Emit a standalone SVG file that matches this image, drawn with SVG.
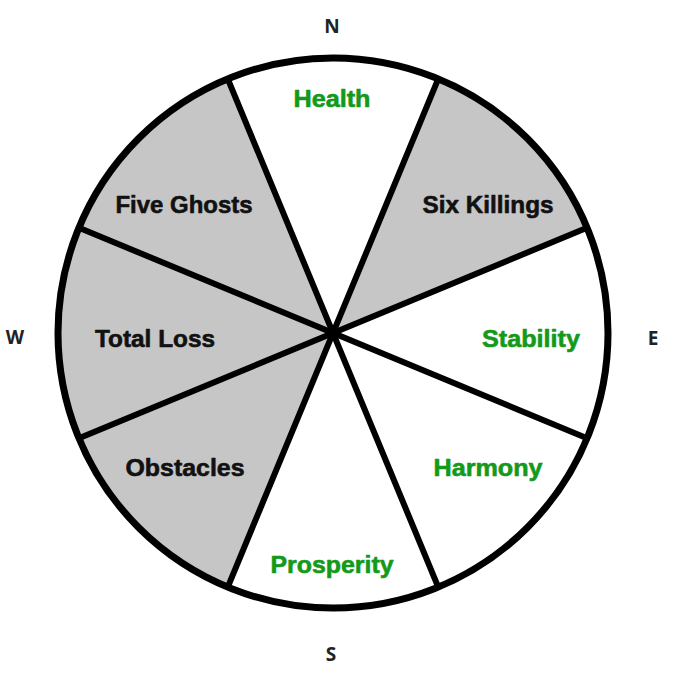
<svg xmlns="http://www.w3.org/2000/svg" width="683" height="678" viewBox="0 0 683 678">
<style>
.bg{fill:#ffffff}
.shade{fill:#c6c6c6;stroke:none}
.clear{fill:#ffffff;stroke:none}
.lbl{font-family:"Liberation Sans",Arial,sans-serif;font-weight:bold;font-size:24px;text-anchor:middle;stroke-width:0.6;stroke-linejoin:round}
.good{fill:#14991a;stroke:#14991a}
.bad{fill:#111111;stroke:#111111}
.dir{font-family:"Open Sans","Liberation Sans",sans-serif;font-weight:700;font-size:19px;text-anchor:middle;fill:#222222}
.spoke{stroke:#000;stroke-width:6;stroke-linecap:round;fill:none}
.rim{stroke:#000;stroke-width:7;fill:none}
</style>
<rect class="bg" x="0" y="0" width="683" height="678"/>
<g id="health">
<path class="clear" d="M333 333 L227.76 78.93 A275 275 0 0 1 438.24 78.93 Z"/>
<text class="lbl good" x="332" y="107" textLength="77" lengthAdjust="spacingAndGlyphs">Health</text>
</g>
<g id="six-killings">
<path class="shade" d="M333 333 L438.24 78.93 A275 275 0 0 1 587.07 227.76 Z"/>
<text class="lbl bad" x="488" y="213" textLength="131" lengthAdjust="spacingAndGlyphs">Six Killings</text>
</g>
<g id="stability">
<path class="clear" d="M333 333 L587.07 227.76 A275 275 0 0 1 587.07 438.24 Z"/>
<text class="lbl good" x="531" y="347" textLength="98" lengthAdjust="spacingAndGlyphs">Stability</text>
</g>
<g id="harmony">
<path class="clear" d="M333 333 L587.07 438.24 A275 275 0 0 1 438.24 587.07 Z"/>
<text class="lbl good" x="488" y="476" textLength="109" lengthAdjust="spacingAndGlyphs">Harmony</text>
</g>
<g id="prosperity">
<path class="clear" d="M333 333 L438.24 587.07 A275 275 0 0 1 227.76 587.07 Z"/>
<text class="lbl good" x="332" y="573" textLength="123" lengthAdjust="spacingAndGlyphs">Prosperity</text>
</g>
<g id="obstacles">
<path class="shade" d="M333 333 L227.76 587.07 A275 275 0 0 1 78.93 438.24 Z"/>
<text class="lbl bad" x="185" y="476" textLength="119" lengthAdjust="spacingAndGlyphs">Obstacles</text>
</g>
<g id="total-loss">
<path class="shade" d="M333 333 L78.93 438.24 A275 275 0 0 1 78.93 227.76 Z"/>
<text class="lbl bad" x="155" y="347" textLength="120" lengthAdjust="spacingAndGlyphs">Total Loss</text>
</g>
<g id="five-ghosts">
<path class="shade" d="M333 333 L78.93 227.76 A275 275 0 0 1 227.76 78.93 Z"/>
<text class="lbl bad" x="184" y="213" textLength="137" lengthAdjust="spacingAndGlyphs">Five Ghosts</text>
</g>
<g id="connectors">
<line class="spoke" x1="227.76" y1="78.93" x2="438.24" y2="587.07"/>
<line class="spoke" x1="438.24" y1="78.93" x2="227.76" y2="587.07"/>
<line class="spoke" x1="587.07" y1="227.76" x2="78.93" y2="438.24"/>
<line class="spoke" x1="587.07" y1="438.24" x2="78.93" y2="227.76"/>
<circle class="rim" cx="333" cy="333" r="275"/>
</g>
<g id="compass">
<text class="dir" x="332" y="33">N</text>
<text class="dir" x="653" y="345">E</text>
<text class="dir" x="331" y="661">S</text>
<text class="dir" x="15" y="344">W</text>
</g>
</svg>
